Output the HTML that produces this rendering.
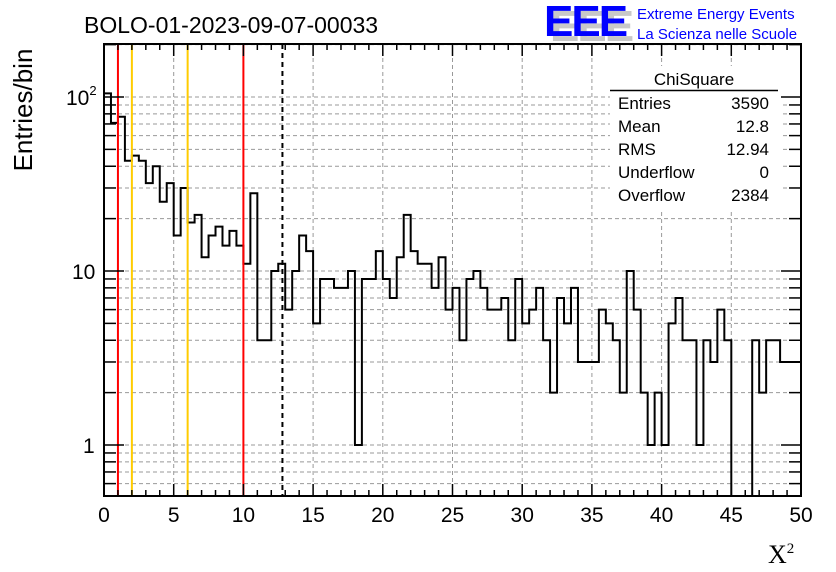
<!DOCTYPE html>
<html><head><meta charset="utf-8"><style>
html,body{margin:0;padding:0;background:#fff}
svg{display:block;font-family:"Liberation Sans",sans-serif}
</style></head><body>
<svg id="c" width="836" height="572" viewBox="0 0 836 572">
<rect width="836" height="572" fill="#fff"/>
<text x="84" y="33" font-size="23">BOLO-01-2023-09-07-00033</text>
<g>
<text x="550" y="41" font-size="44" font-weight="bold" fill="#c8c8c8" letter-spacing="-2">EEE</text>
<text x="544" y="36" font-size="44" font-weight="bold" fill="#0000ff" letter-spacing="-2">EEE</text>
<text x="637" y="19" font-size="15" fill="#0000ff">Extreme Energy Events</text>
<text x="637" y="39" font-size="15" fill="#0000ff">La Scienza nelle Scuole</text>
</g>
<g id="grid"></g>
<g id="marks"></g>
<g id="axes"></g>
<g>
<rect x="610" y="66" width="170" height="144" fill="#fff"/>
<text x="694" y="85" font-size="17" text-anchor="middle">ChiSquare</text>
<line x1="610" y1="90.5" x2="778" y2="90.5" stroke="#000" stroke-width="1.5"/>
<g font-size="17">
<text x="618" y="109">Entries</text><text x="769" y="109" text-anchor="end">3590</text>
<text x="618" y="132">Mean</text><text x="769" y="132" text-anchor="end">12.8</text>
<text x="618" y="155">RMS</text><text x="769" y="155" text-anchor="end">12.94</text>
<text x="618" y="178">Underflow</text><text x="769" y="178" text-anchor="end">0</text>
<text x="618" y="201">Overflow</text><text x="769" y="201" text-anchor="end">2384</text>
</g>
</g>
<text transform="translate(32,110) rotate(-90)" font-size="26" text-anchor="middle">Entries/bin</text>
<text x="768" y="563" font-size="26" font-family="Liberation Serif,serif">X<tspan font-size="15" dy="-10">2</tspan></text>
</svg>
<script>
const counts=[105,71,77,43,46,43,32,40,25,32,16,30,19,21,12,16,18,14,17,14,11,28,4,4,10,11,6,10,16,13,5,9,9,8,8,10,1,9,9,13,9,7,12,21,13,11,11,8,12,6,8,4,9,10,8,6,6,7,4,9,5,6,8,4,2,7,5,8,3,3,3,6,5,4,2,10,6,2,1,2,1,5,7,4,4,1,4,3,6,4,0,0,0,4,2,4,4,3,3,3];
const xTicks=[0,5,10,15,20,25,30,35,40,45,50];
const cutLines=[{x:1,c:"#ff0000"},{x:2,c:"#ffcc00"},{x:6,c:"#ffcc00"},{x:10,c:"#ff0000"}];
const meanValue=12.8;
const binWidth=0.5;
const NS="http://www.w3.org/2000/svg";
const L=104,R=801,T=44,B=496;
const X=v=>L+(v/50)*(R-L);
const Y=v=>v<=0?B:Math.min(B,445-174*Math.log10(v));
function mk(tag,attrs,parent){const e=document.createElementNS(NS,tag);for(const k in attrs)e.setAttribute(k,attrs[k]);parent.appendChild(e);return e;}
const grid=document.getElementById('grid'),marks=document.getElementById('marks'),axes=document.getElementById('axes');
xTicks.slice(1,-1).forEach(t=>{const g=mk('line',{x1:X(t),x2:X(t),y1:T,y2:B,stroke:'#999','stroke-dasharray':'4,3'},grid);

});
const yMin=Math.pow(10,(445-B)/174),yMax=Math.pow(10,(445-T)/174);
for(let d=0.1;d<=100;d*=10){for(let m=1;m<10;m++){const v=Math.round(d*m*100)/100;if(v<yMin||v>yMax)continue;
const y=Y(v);const g=mk('line',{x1:L,x2:R,y1:y,y2:y,stroke:'#999','stroke-dasharray':'4,3'},grid);


const major=(m===1);
const t1=mk('line',{x1:L,x2:L+(major?20:12),y1:y,y2:y,stroke:'#000','stroke-width':1.5},axes);


const t2=mk('line',{x1:R,x2:R-(major?20:12),y1:y,y2:y,stroke:'#000','stroke-width':1.5},axes);

}}
let d='';let prev=null;
counts.forEach((c,i)=>{const x0=X(i*binWidth),x1=X((i+1)*binWidth),y=Y(c);
if(prev===null)d+='M'+x0+','+y;else d+='L'+x0+','+y;d+='L'+x1+','+y;prev=y;});
const h=mk('path',{d:d,fill:'none',stroke:'#000','stroke-width':2},marks);


cutLines.forEach(o=>{const l=mk('line',{x1:X(o.x),x2:X(o.x),y1:T,y2:B,stroke:o.c,'stroke-width':2},marks);

});
const ml=mk('line',{x1:X(meanValue),x2:X(meanValue),y1:T,y2:B,stroke:'#000','stroke-width':2,'stroke-dasharray':'5,4'},marks);


const fr=mk('rect',{x:L,y:T,width:R-L,height:B-T,fill:'none',stroke:'#000','stroke-width':2},axes);


for(let v=0;v<=50;v+=1){const major=v%5===0;const x=X(v);
const a=mk('line',{x1:x,x2:x,y1:B,y2:B-(major?12:6),stroke:'#000','stroke-width':1.5},axes);


const b=mk('line',{x1:x,x2:x,y1:T,y2:T+(major?12:6),stroke:'#000','stroke-width':1.5},axes);

}
xTicks.forEach(t=>{const tx=mk('text',{x:X(t),y:522,'font-size':21,'text-anchor':'middle'},axes);tx.textContent=t;

});
const yl=[{v:100,t:'10'},{v:10,t:'10'},{v:1,t:'1'}];
yl.forEach((o,i)=>{const tx=mk('text',{x:i===0?66:(i===1?72:83),y:Y(o.v)+8,'font-size':21},axes);tx.textContent=o.t;


if(i===0){const s=mk('tspan',{'font-size':13,dy:-10},tx);s.textContent='2';}});
</script>
</body></html>
